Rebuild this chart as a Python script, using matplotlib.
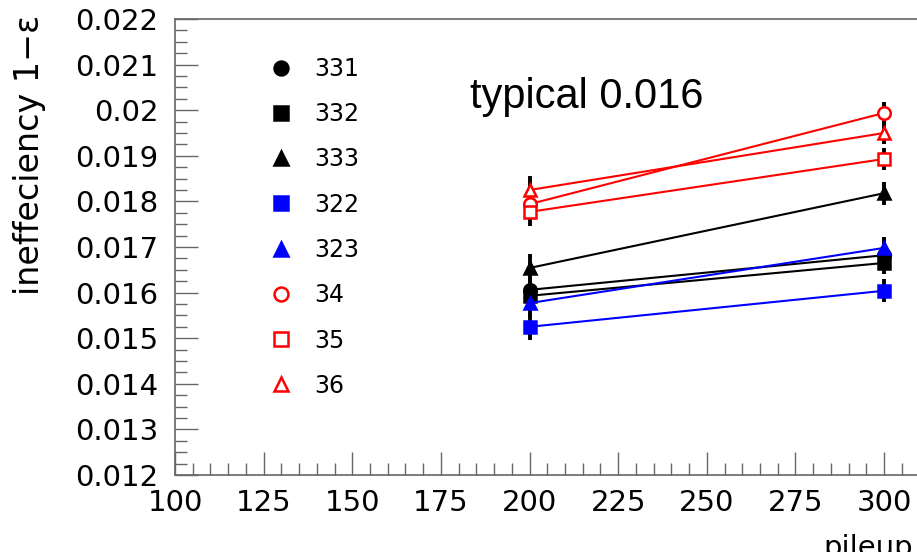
import matplotlib
matplotlib.use('Agg')
import matplotlib.pyplot as plt
from matplotlib.lines import Line2D
import numpy as np

pileup = [200, 300]
names = ['331', '332', '333', '322', '323', '34', '35', '36']
vals200 = [0.01606, 0.01593, 0.01654, 0.01525, 0.01577, 0.01794, 0.01777, 0.01825]
vals300 = [0.01682, 0.01665, 0.01818, 0.01604, 0.01698, 0.01994, 0.01893, 0.01950]
err200 = [0.0003] * 8
err300 = [0.00025] * 8

colors = ['black', 'black', 'black', 'blue', 'blue', 'red', 'red', 'red']
markers = ['o', 's', '^', 's', '^', 'o', 's', '^']
filled = [True, True, True, True, True, False, False, False]

W, H = 917, 552
fig = plt.figure(figsize=(W / 100, H / 100), dpi=100)
# axes run past the right edge, the picture is cut there
ax = fig.add_axes([175 / W, (H - 475) / H, (972.7 - 175) / W, (475 - 19) / H])

axcol = '#666666'
for i in range(len(names)):
    y = [vals200[i], vals300[i]]
    e = [err200[i], err300[i]]
    ax.errorbar(pileup, y, yerr=e, fmt='none', ecolor='black', elinewidth=2.8, capsize=0, zorder=2)
    ax.plot(pileup, y, color=colors[i], lw=1.5, marker=markers[i], ms=9,
            mfc=colors[i] if filled[i] else 'white', mec=colors[i], mew=1.8, zorder=3)

ax.set_xlim(100, 325)
ax.set_ylim(0.012, 0.022)
ax.set_xticks(np.arange(100, 301, 25))
ax.set_xticks(np.arange(100, 326, 5), minor=True)
ax.set_yticks(np.arange(0.012, 0.02201, 0.001))
ax.set_yticks(np.arange(0.012, 0.02201, 0.00025), minor=True)
ax.set_yticklabels(['0.012', '0.013', '0.014', '0.015', '0.016', '0.017', '0.018', '0.019', '0.02', '0.021', '0.022'])
ax.tick_params(which='both', direction='in', color=axcol, width=1.0, labelsize=21, right=False, top=False)
ax.tick_params(which='major', length=16.5)
ax.tick_params(which='minor', length=8.6)
ax.tick_params(axis='y', pad=12)
ax.tick_params(axis='x', pad=10)
for s in ax.spines.values():
    s.set_color(axcol)
    s.set_linewidth(1.2)

handles = [Line2D([], [], ls='none', marker=markers[i], ms=10, color=colors[i],
                  mfc=colors[i] if filled[i] else 'white', mec=colors[i], mew=1.8)
           for i in range(len(names))]
fig.legend(handles, names, loc='upper left', bbox_to_anchor=(269 / W, (H - 57) / H),
           frameon=False, fontsize=17, labelspacing=0.9, handlelength=1.0,
           handletextpad=0.9, borderpad=0, borderaxespad=0)

fig.text(470 / W, (H - 97) / H, 'typical 0.016', fontsize=30, family='Liberation Sans', va='center', ha='left')
fig.text(30 / W, (H - 155) / H, 'ineffeciency 1\u2212\u03b5', fontsize=24, rotation=90, va='center', ha='center')
fig.text(823 / W, (H - 556) / H, 'pileup', fontsize=21, va='baseline', ha='left')

fig.savefig('out.png', dpi=100)
